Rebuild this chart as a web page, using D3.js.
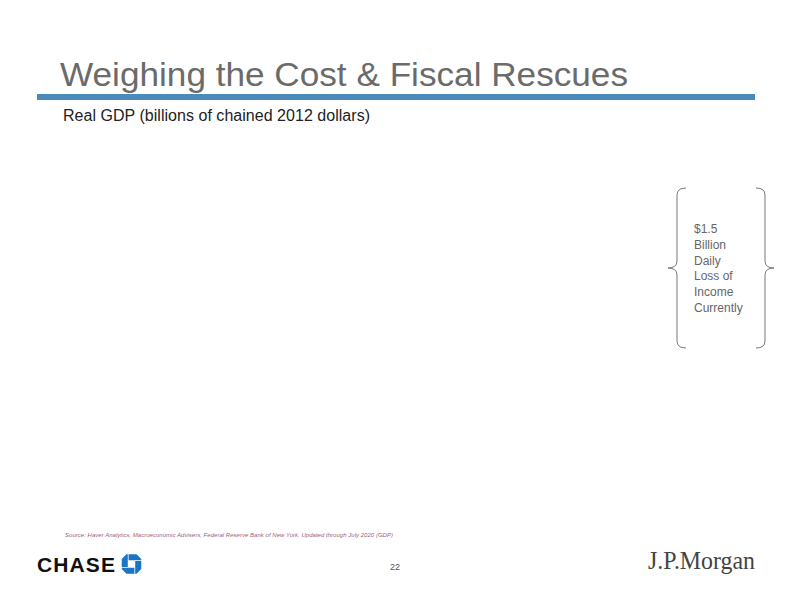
<!DOCTYPE html>
<html>
<head>
<meta charset="utf-8">
<script src="https://cdn.jsdelivr.net/npm/d3@7"></script>
<style>
    body { margin: 0; background: #fff; }
    svg { display: block; font-family: "Liberation Sans", Arial, sans-serif; }
</style>
</head>
<body>
<svg id="slide" width="792" height="612"></svg>
<script>
// Slide texts
const titleText = 'Weighing the Cost & Fiscal Rescues';
const subtitleText = 'Real GDP (billions of chained 2012 dollars)';
const calloutLines = ['$1.5', 'Billion', 'Daily', 'Loss of', 'Income', 'Currently'];
const sourceText = 'Source: Haver Analytics, Macroeconomic Advisers, Federal Reserve Bank of New York. Updated through July 2020 (GDP)';
const pageNumber = '22';

const svg = d3.select('#slide');

// Title + rule
svg.append('text')
    .attr('x', 60)
    .attr('y', 86)
    .style('font-size', '34px')
    .style('fill', '#6b6b6b')
    .attr('textLength', 568)
    .attr('lengthAdjust', 'spacingAndGlyphs')
    .text(titleText);

svg.append('rect')
    .attr('x', 37)
    .attr('y', 94)
    .attr('width', 718)
    .attr('height', 6)
    .style('fill', '#4a8bbb');

svg.append('text')
    .attr('x', 63)
    .attr('y', 121)
    .style('font-size', '16px')
    .style('fill', '#222')
    .attr('textLength', 307)
    .text(subtitleText);

// Callout with braces
const braceTop = 188, braceBottom = 348, braceMid = (braceTop + braceBottom) / 2;

function brace(xOuter, xLine, xTip) {
    const r = 7;
    return `M${xOuter},${braceTop} Q${xLine},${braceTop} ${xLine},${braceTop + r}
        L${xLine},${braceMid - r} Q${xLine},${braceMid} ${xTip},${braceMid}
        Q${xLine},${braceMid} ${xLine},${braceMid + r}
        L${xLine},${braceBottom - r} Q${xLine},${braceBottom} ${xOuter},${braceBottom}`;
}

svg.append('path')
    .attr('d', brace(686, 677, 668))
    .style('fill', 'none')
    .style('stroke', '#777')
    .style('stroke-width', 1);

svg.append('path')
    .attr('d', brace(756, 765, 774))
    .style('fill', 'none')
    .style('stroke', '#777')
    .style('stroke-width', 1);

const lineY = d3.scaleLinear().domain([0, calloutLines.length - 1]).range([233, 312]);

svg.append('g')
    .selectAll('text')
    .data(calloutLines)
    .enter().append('text')
    .attr('x', 694)
    .attr('y', (d, i) => lineY(i))
    .style('font-size', '12px')
    .style('fill', '#666')
    .text(d => d);

// Source note
svg.append('text')
    .attr('x', 65)
    .attr('y', 537)
    .style('font-size', '6px')
    .style('font-style', 'italic')
    .style('fill', '#a0607a')
    .attr('textLength', 328)
    .text(sourceText);

// Footer
svg.append('text')
    .attr('x', 37)
    .attr('y', 572)
    .style('font-size', '21px')
    .style('font-weight', 'bold')
    .style('fill', '#111')
    .attr('textLength', 78)
    .text('CHASE');

// Chase octagon: four rotated pieces
const piece = [[-15, -50], [26, -50], [50, -26], [50, -19], [17, -19], [-15, -19]];
const chase = svg.append('g').attr('transform', 'translate(131.5,564) scale(0.195)');
[0, 90, 180, 270].forEach(a => {
    chase.append('path')
        .attr('d', 'M' + piece.join('L') + 'Z')
        .attr('transform', `rotate(${a})`)
        .style('fill', '#1a75c4');
});

svg.append('text')
    .attr('x', 395)
    .attr('y', 570)
    .attr('text-anchor', 'middle')
    .style('font-size', '9px')
    .style('fill', '#555')
    .text(pageNumber);

svg.append('text')
    .attr('x', 648)
    .attr('y', 569)
    .style('font-family', '"Liberation Serif", "DejaVu Serif", serif')
    .style('font-size', '26px')
    .style('fill', '#444')
    .attr('textLength', 107)
    .attr('lengthAdjust', 'spacingAndGlyphs')
    .text('J.P.Morgan');
</script>
</body>
</html>
